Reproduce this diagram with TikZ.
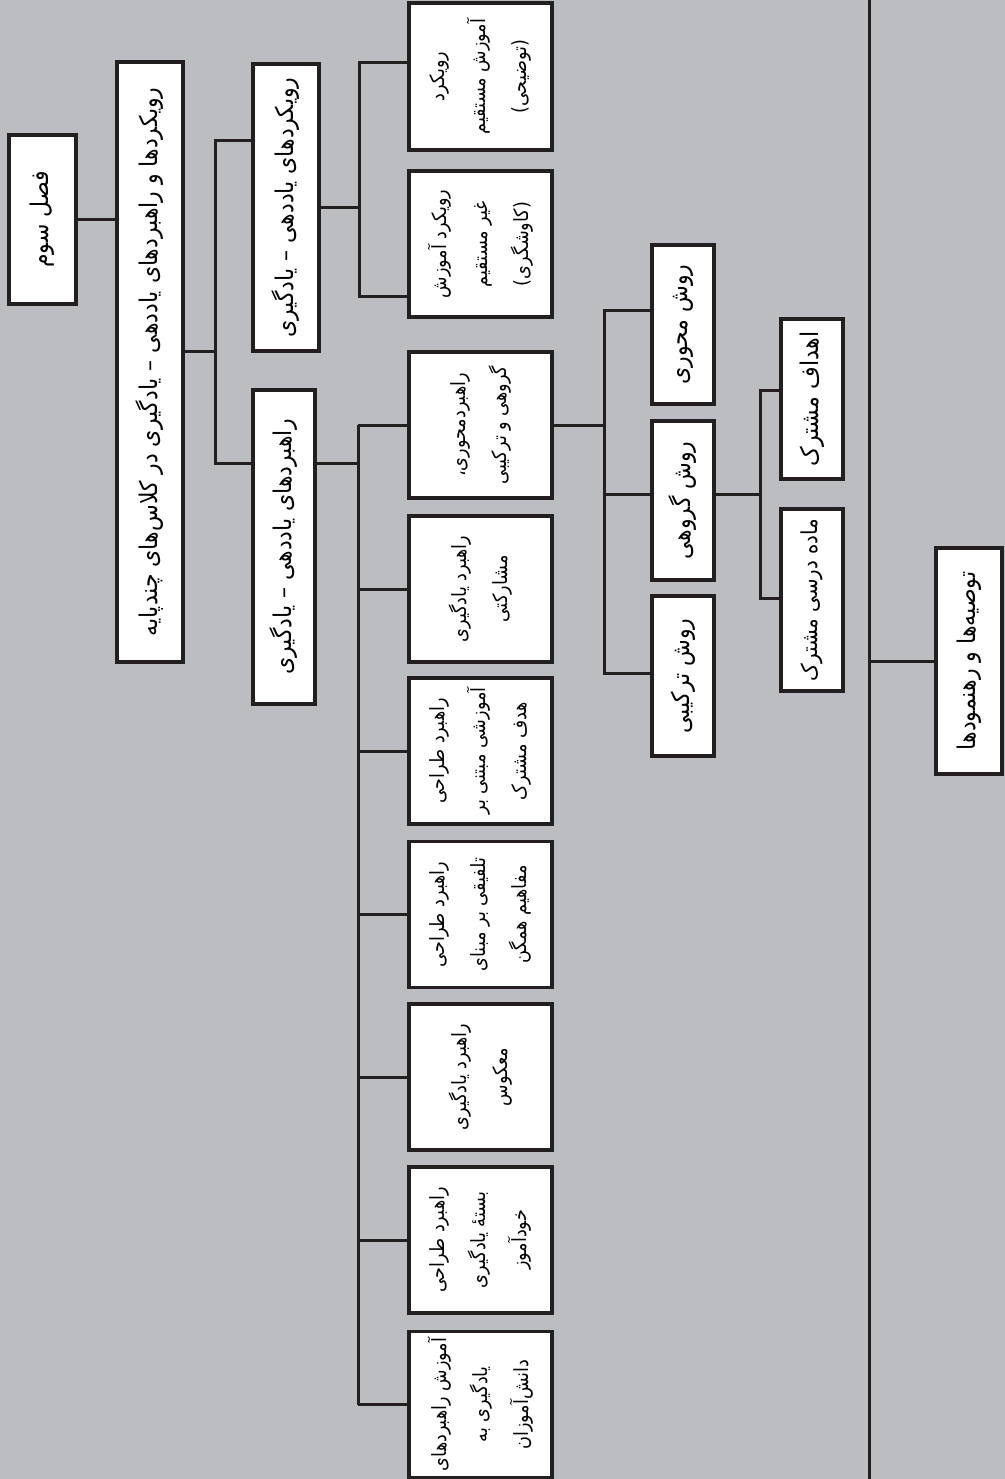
\documentclass[tikz,border=0pt]{standalone}
\usepackage{fontspec}
\usepackage{xcolor}
\usepackage{tikz}
\usetikzlibrary{positioning,calc}
\TeXXeTstate=1
\newfontfamily\arabicfont[Script=Arabic,FakeStretch=0.9]{DejaVu Sans}
\newcommand{\fa}[1]{\beginR #1\endR}
\definecolor{bggray}{RGB}{188,189,193}
\definecolor{inkline}{RGB}{35,31,32}

\begin{document}
\begin{tikzpicture}[x=0.5pt,y=-0.5pt,
		box/.style={draw=inkline, line width=1.6pt, fill=white, rotate=90, inner sep=0pt, align=center, font=\arabicfont\fontsize{12.2}{20}\selectfont},
		tallbox/.style={box, minimum width=73pt, minimum height=71.5pt, font=\arabicfont\fontsize{9.8}{20.5}\selectfont},
		link/.style={draw=inkline, line width=1.5pt}]
		\fill[bggray] (0,0) rectangle (1005,1479);
		\useasboundingbox (0,0) rectangle (1005,1479);

		% chapter and title
		\node[box, minimum width=84.5pt, minimum height=33.5pt] (chap) at (42.5,219.5) {\fa{فصل سوم}};
		\node[box, minimum width=300pt, minimum height=33pt] (title) at (150,362) {\fa{رویکردها و راهبردهای یاددهی – یادگیری در کلاس‌های چندپایه}};

		% approaches and strategies
		\node[box, minimum width=143.5pt, minimum height=33pt] (appr) at (286,207.5) {\fa{رویکردهای یاددهی – یادگیری}};
		\node[box, minimum width=157pt, minimum height=31pt] (strat) at (284,547) {\fa{راهبردهای یاددهی – یادگیری}};

		\node[tallbox, minimum width=73.5pt] (direct) at (480.5,76.5) {\fa{رویکرد}\\\fa{آموزش مستقیم}\\\fa{(توضیحی)}};
		\node[tallbox] (indirect) at (480.5,244) {\fa{رویکرد آموزش}\\\fa{غیر مستقیم}\\\fa{(کاوشگری)}};

		\node[tallbox] (s1) at (480.5,425) {\fa{راهبردمحوری،}\\\fa{گروهی و ترکیبی}};
		\node[tallbox] (s2) at (480.5,589) {\fa{راهبرد یادگیری}\\\fa{مشارکتی}};
		\node[tallbox] (s3) at (480.5,751) {\fa{راهبرد طراحی}\\\fa{آموزشی مبتنی بر}\\\fa{هدف مشترک}};
		\node[tallbox] (s4) at (480.5,914.5) {\fa{راهبرد طراحی}\\\fa{تلفیقی بر مبنای}\\\fa{مفاهیم همگن}};
		\node[tallbox] (s5) at (480.5,1077) {\fa{راهبرد یادگیری}\\\fa{معکوس}};
		\node[tallbox] (s6) at (480.5,1240) {\fa{راهبرد طراحی}\\\fa{بستهٔ یادگیری}\\\fa{خودآموز}};
		\node[tallbox] (s7) at (480.5,1404.5) {\fa{آموزش راهبردهای}\\\fa{یادگیری به}\\\fa{دانش‌آموزان}};

		% methods
		\node[box, minimum width=79.5pt, minimum height=31pt] (m1) at (683,324.5) {\fa{روش محوری}};
		\node[box, minimum width=79.5pt, minimum height=31pt] (m2) at (683,500.5) {\fa{روش گروهی}};
		\node[box, minimum width=80pt, minimum height=31pt] (m3) at (683,676) {\fa{روش ترکیبی}};

		\node[box, minimum width=80pt, minimum height=31pt] (g1) at (812,399) {\fa{اهداف مشترک}};
		\node[box, minimum width=91pt, minimum height=31pt, font=\arabicfont\fontsize{11}{20}\selectfont] (g2) at (812,600) {\fa{ماده درسی مشترک}};

		\node[box, minimum width=113pt, minimum height=33pt] (rec) at (969,661) {\fa{توصیه‌ها و رهنمودها}};

		% junctions
		\coordinate (jT) at (215,351);
		\coordinate (jA) at (215,140);
		\coordinate (jB) at (215,463);
		\coordinate (jC) at (359,62);
		\coordinate (jD) at (359,296);
		\coordinate (jE) at (358,463);
		\coordinate (jF) at (604,427);
		\coordinate (jF1) at (604,310);
		\coordinate (jF3) at (604,673);
		\coordinate (jG) at (604,494);
		\coordinate (jH) at (760,494);
		\coordinate (jH1) at (760,390);
		\coordinate (jH2) at (760,598);
		\coordinate (spT) at (869,0);
		\coordinate (spB) at (869,1479);

		% connectors
		\draw[link] (chap.south) -- (chap.south -| title.north);
		\draw[link] (jT -| title.south) -- (jT);
		\draw[link] (jA -| appr.north) -- (jA) -- (jB) -- (jB -| strat.north);

		\draw[link] (appr.south) -- (appr.south -| jC);
		\draw[link] (jC -| direct.north) -- (jC) -- (jD) -- (jD -| indirect.north);

		\draw[link] (jE -| strat.south) -- (jE);
		\draw[link] (s1.north -| jE) -- (s7.north -| jE);
		\foreach \i in {1,...,7}
			\draw[link] (s\i.north) -- (s\i.north -| jE);

		\draw[link] (s1.south) -- (s1.south -| jF);
		\draw[link] (jF1 -| m1.north) -- (jF1) -- (jF3) -- (jF3 -| m3.north);
		\draw[link] (jG) -- (jG -| m2.north);

		\draw[link] (jH -| m2.south) -- (jH);
		\draw[link] (jH1 -| g1.north) -- (jH1) -- (jH2) -- (jH2 -| g2.north);

		\draw[link] (spT) -- (spB);
		\draw[link] (spT |- rec.north) -- (rec.north);
	\end{tikzpicture}
\end{document}
